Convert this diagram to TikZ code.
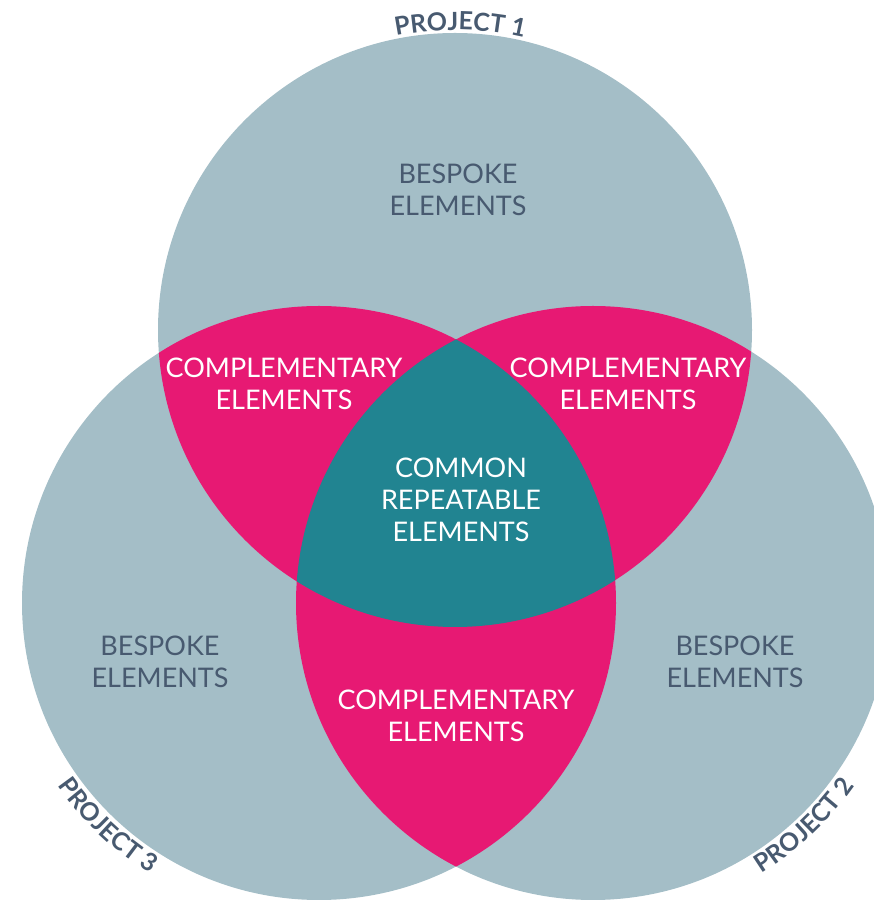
\documentclass[tikz,border=0pt]{standalone}
\usepackage{fontspec}
\setmainfont{Lato}
\usetikzlibrary{decorations.text,calc}
\definecolor{greyc}{HTML}{A4BEC7}
\definecolor{pinkc}{HTML}{E71973}
\definecolor{tealc}{HTML}{218491}
\definecolor{textc}{HTML}{485A70}
\begin{document}
\begin{tikzpicture}[x=1pt,y=1pt,
  lab/.style={align=center, inner sep=0pt, font=\fontsize{27}{32}\selectfont},
  dark/.style={lab, text=textc},
  light/.style={lab, text=white},
  projlab/.style={decorate, decoration={text along path, text align=center, text color=textc, text={|\bfseries\fontsize{25}{25}\selectfont|#1}}}]
\useasboundingbox (0,0) rectangle (874,900);
\clip (0,0) rectangle (874,900);
\def\R{297}
\coordinate (c1) at (455,570);
\coordinate (c2) at (593,297);
\coordinate (c3) at (319,297);
% base circles
\fill[greyc] (c1) circle[radius=\R];
\fill[greyc] (c2) circle[radius=\R];
\fill[greyc] (c3) circle[radius=\R];
% pairwise overlaps
\begin{scope}
  \clip (c1) circle[radius=\R];
  \fill[pinkc] (c2) circle[radius=\R];
  \fill[pinkc] (c3) circle[radius=\R];
\end{scope}
\begin{scope}
  \clip (c2) circle[radius=\R];
  \fill[pinkc] (c3) circle[radius=\R];
\end{scope}
% triple overlap
\begin{scope}
  \clip (c1) circle[radius=\R];
  \clip (c2) circle[radius=\R];
  \fill[tealc] (c3) circle[radius=\R];
\end{scope}
% region labels
\node[dark]  (b1) at (458,710) {BESPOKE\\ELEMENTS};
\node[dark]  (b3) at (160,238) {BESPOKE\\ELEMENTS};
\node[dark]  (b2) at (735,238) {BESPOKE\\ELEMENTS};
\node[light] (p13) at (284,516) {COMPLEMENTARY\\ELEMENTS};
\node[light] (p12) at (628,516) {COMPLEMENTARY\\ELEMENTS};
\node[light] (p23) at (456,184) {COMPLEMENTARY\\ELEMENTS};
\node[light] (cm) at (461,400) {COMMON\\REPEATABLE\\ELEMENTS};
% project labels along circles
\path[projlab={PROJECT 1}] ($(c1)+(119:300)$) arc[start angle=119, end angle=59, radius=300];
\path[projlab={PROJECT 3}] ($(c3)+(196.5:319)$) arc[start angle=196.5, end angle=256.5, radius=319];
\path[projlab={PROJECT 2}] ($(c2)+(283.5:319)$) arc[start angle=283.5, end angle=343.5, radius=319];
\end{tikzpicture}
\end{document}
